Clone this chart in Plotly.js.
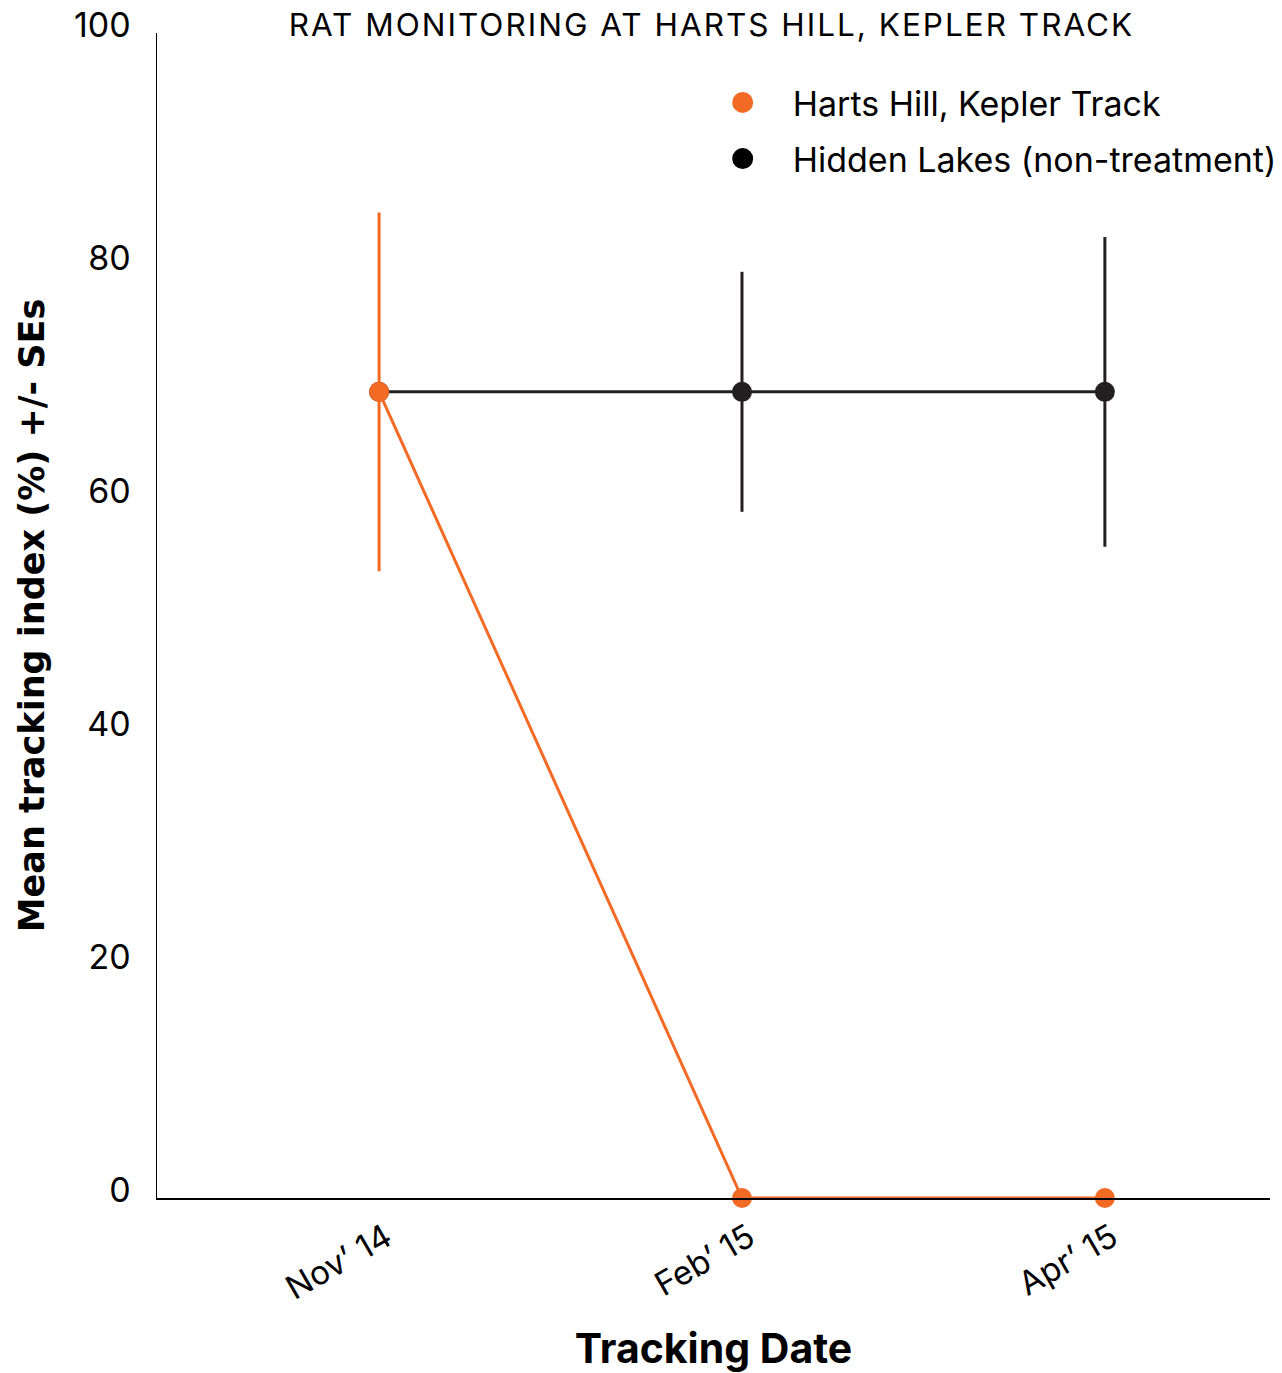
<!DOCTYPE html>
<html>
<head>
<meta charset="utf-8">
<script src="https://cdn.plot.ly/plotly-3.0.1.min.js"></script>
<style>html,body{margin:0;padding:0;background:#fff;}</style>
</head>
<body>
<div id="chart" style="width:1282px;height:1373px;"></div>
<script>
// Data
const dates = ["Nov’ 14", "Feb’ 15", "Apr’ 15"];
const hartsHill = [69.2, 0, 0];
const hartsHillSE = [15.4, 0, 0];
const hiddenLakes = [69.2, 69.2, 69.2];
const hiddenLakesSE = [0, 10.3, 13.3];
const seriesNames = ["Harts Hill, Kepler Track", "Hidden Lakes (non-treatment)"];
const chartTitle = "RAT MONITORING AT HARTS HILL, KEPLER TRACK";

const ORANGE = "#F26A24";
const BLACK = "#231F20";

const traces = [
  {
    x: dates, y: hiddenLakes, type: "scatter", mode: "lines+markers",
    name: seriesNames[1], showlegend: false, cliponaxis: false,
    line: {color: BLACK, width: 3},
    marker: {color: BLACK, size: 20},
    error_y: {type: "data", array: hiddenLakesSE, visible: true, color: BLACK, thickness: 3, width: 0}
  },
  {
    x: dates, y: hartsHill, type: "scatter", mode: "lines+markers",
    name: seriesNames[0], showlegend: false, cliponaxis: false,
    line: {color: ORANGE, width: 3},
    marker: {color: ORANGE, size: 20},
    error_y: {type: "data", array: hartsHillSE, visible: true, color: ORANGE, thickness: 3, width: 0}
  },
  {
    x: [null], y: [null], type: "scatter", mode: "markers", name: seriesNames[0],
    marker: {color: ORANGE, size: 30, line: {color: ORANGE, width: 5}}, legendgroup: "a"
  },
  {
    x: [null], y: [null], type: "scatter", mode: "markers", name: seriesNames[1],
    marker: {color: "#000000", size: 30, line: {color: "#000000", width: 5}}, legendgroup: "b"
  }
];

const layout = {
  width: 1282, height: 1373,
  margin: {l: 157, r: 12, t: 33, b: 175, autoexpand: false},
  paper_bgcolor: "#ffffff", plot_bgcolor: "#ffffff",
  font: {family: "Inter, 'Open Sans', sans-serif", color: "#000000", size: 28},
  title: {
    text: '<span style="letter-spacing:2px">' + chartTitle + '</span>',
    font: {family: "Inter, sans-serif", size: 31.5, color: "#000000"},
    x: 0.555, xanchor: "center", y: 0.982, yanchor: "middle"
  },
  xaxis: {
    type: "category",
    range: [-0.612, 2.455],
    showline: true, linecolor: "#000000", linewidth: 1.5,
    showgrid: false, zeroline: false, ticks: "",
    tickangle: -30,
    tickfont: {size: 33, family: "Inter, sans-serif"},
    ticklabelstandoff: 6,
    ticklabelshift: 7,
    title: {text: "Tracking Date", font: {size: 41, family: "Inter, sans-serif", weight: 700}, standoff: 36}
  },
  yaxis: {
    range: [0, 100],
    tickvals: [0, 20, 40, 60, 80, 100],
    showline: true, linecolor: "#000000", linewidth: 1.5,
    showgrid: false, zeroline: false, ticks: "",
    tickfont: {size: 34, family: "Inter, sans-serif"},
    ticklabelstandoff: 18,
    ticklabelshift: -8,
    title: {text: "Mean tracking index (%) +/- SEs", font: {size: 35, family: "'DejaVu Sans', sans-serif", weight: 700}, standoff: 18}
  },
  legend: {
    x: 1.0105, xanchor: "right", y: 0.965, yanchor: "top",
    font: {size: 34, family: "Inter, sans-serif"},
    bgcolor: "rgba(0,0,0,0)",
    traceorder: "grouped", tracegroupgap: 9,
    itemsizing: "trimmed", itemwidth: 90
  },
  showlegend: true
};

Plotly.newPlot("chart", traces, layout, {displayModeBar: false, staticPlot: true});
</script>
</body>
</html>
